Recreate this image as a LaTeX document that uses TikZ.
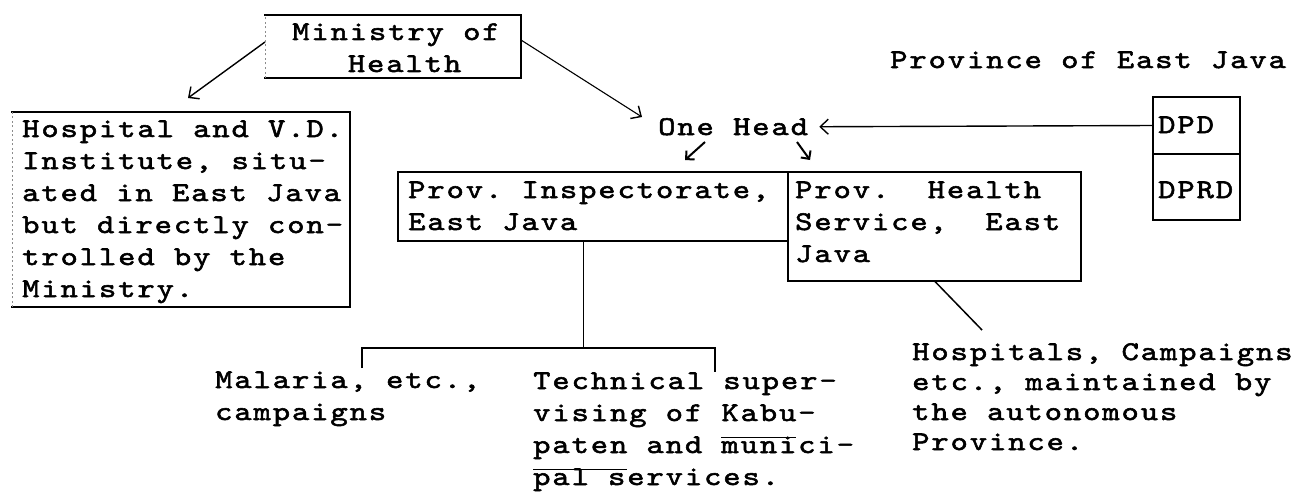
\documentclass[tikz,border=0pt]{standalone}
\usepackage{fontspec}
\usetikzlibrary{arrows.meta,calc}

% Typewriter face: wide pitch (19.2pt per character), heavy strokes
\newfontfamily\typewriter{lmmono10-regular.otf}[FakeStretch=1.22,LetterSpace=7.1,FakeBold=2]
\newcommand\typefont[1]{\typewriter\fontsize{27}{#1}\selectfont\frenchspacing
  \spaceskip=19.2pt\relax\xspaceskip=19.2pt\relax}
% lines of a block, baseline on the first line
\newcommand\stack[1]{\begin{tabular}[t]{@{}l@{}}#1\end{tabular}}
% double space as typed after a full stop or comma
\newcommand\dsp{\hspace*{38.4pt}\ignorespaces}
% low typewriter underscore
\newcommand\tyul[1]{\setbox0\hbox{#1}\rlap{\smash{\rule[-17pt]{\wd0}{1.4pt}}}#1}

\begin{document}
\begin{tikzpicture}[x=1pt,y=-1pt,
  txt/.style={anchor=base west, inner sep=0pt, font=\typefont{32}},
  area/.style={anchor=north west, inner sep=0pt, outer sep=0pt},
  frame/.style={line width=1.8pt, line cap=rect},
  thinframe/.style={line width=1.3pt, line cap=rect},
  faint/.style={line width=0.9pt, black!45, dash pattern=on 2pt off 2.5pt},
  link/.style={line width=1.5pt},
  arr/.style={line width=1.4pt, -{Straight Barb[length=8pt,width=15pt,line width=1.4pt]}},
  smallarr/.style={line width=2pt, -{Straight Barb[length=6pt,width=12pt,line width=2pt]}}]

\fill[white] (0,0) rectangle (1295,495);
\useasboundingbox (0,0) rectangle (1295,495);

% ---- boxes ----
\node[area, minimum width=256pt, minimum height=63pt]  (minbox)  at (265,15)   {};
\node[area, minimum width=338pt, minimum height=195pt] (hospbox) at (12,112)   {};
\node[area, minimum width=390pt, minimum height=69pt]  (inspbox) at (398,172)  {};
\node[area, minimum width=293pt, minimum height=109pt] (hlthbox) at (788,172)  {};
\node[area, minimum width=87pt,  minimum height=57pt]  (dpdbox)  at (1153,97)  {};
\node[area, minimum width=87pt,  minimum height=66pt]  (dprdbox) at (1153,154) {};

\draw[frame] (minbox.north west) -- (minbox.north east) -- (minbox.south east) -- (minbox.south west);
\draw[faint] (minbox.south west) -- (minbox.north west);

\draw[frame] (hospbox.north west) -- (hospbox.north east) -- (hospbox.south east) -- (hospbox.south west);
\draw[faint] (hospbox.south west) -- (hospbox.north west);

\draw[frame] (inspbox.north west) rectangle (inspbox.south east);
\draw[frame] (hlthbox.north west) -- (hlthbox.north east) -- (hlthbox.south east) -- (hlthbox.south west) -- (hlthbox.north west);

\draw[thinframe] (dpdbox.north west) rectangle (dpdbox.south east);
\draw[thinframe] (dprdbox.north west) rectangle (dprdbox.south east);

% ---- texts ----
\node[txt] (mintxt) at (292,40) {\stack{Ministry of\\\phantom{Min}Health}};
\node[txt] (hosptxt) at (22,137) {\stack{Hospital and V.D.\\Institute, situ-\\ated in East Java\\but directly con-\\trolled by the\\Ministry.}};
\node[txt] (provtxt) at (890,68) {Province of East Java};
\node[txt] (onehead) at (658,135) {One Head};
\node[txt] (dpdtxt)  at (1158,133) {DPD};
\node[txt] (dprdtxt) at (1158,198) {DPRD};
\node[txt] (insptxt) at (408,198) {\stack{Prov. Inspectorate,\\East Java}};
\node[txt] (hlthtxt) at (795,198) {\stack{Prov.\dsp Health\\Service,\dsp East\\Java}};
\node[txt] (maltxt)  at (215,388) {\stack{Malaria, etc.,\\campaigns}};
\node[txt] (techtxt) at (533,389) {\stack{Technical super-\\vising of \tyul{Kabu}-\\\tyul{paten} and munici-\\pal services.}};
\node[txt, font=\typefont{30}] (hsptltxt) at (912,360) {\stack{Hospitals, Campaigns\\etc., maintained by\\the autonomous\\Province.}};

% ---- connectors ----
\coordinate (hospTip) at (188,98);
\draw[arr] ([yshift=4.5pt]minbox.west) -- (hospTip);

\coordinate (headTip) at (642,117);
\draw[arr, line width=1.1pt] ([yshift=6.5pt]minbox.east) -- (headTip);

\draw[arr] (dpdbox.west) -- ([xshift=11pt]onehead.east);

\coordinate (inspFrom) at (705,142);
\coordinate (inspTip)  at (685,160);
\coordinate (hlthFrom) at (797,142);
\coordinate (hlthTip)  at (810,160);
\draw[smallarr] (inspFrom) -- (inspTip);
\draw[smallarr] (hlthFrom) -- (hlthTip);

\coordinate (foot) at ($(inspbox.south west)!0.476!(inspbox.south east)$);
\coordinate (junction) at ($(foot)+(0,107)$);
\coordinate (malCorner) at (362,348);
\coordinate (malTick) at (362,368);
\coordinate (techCorner) at (715,348);
\coordinate (techTick) at (715,372);
\draw[link] (foot) -- (junction);
\draw[link] (malTick) -- (malCorner) -- (techCorner) -- (techTick);

\coordinate (hsptlTop) at (982,330);
\draw[link] (hlthbox.south) -- (hsptlTop);
\end{tikzpicture}
\end{document}
